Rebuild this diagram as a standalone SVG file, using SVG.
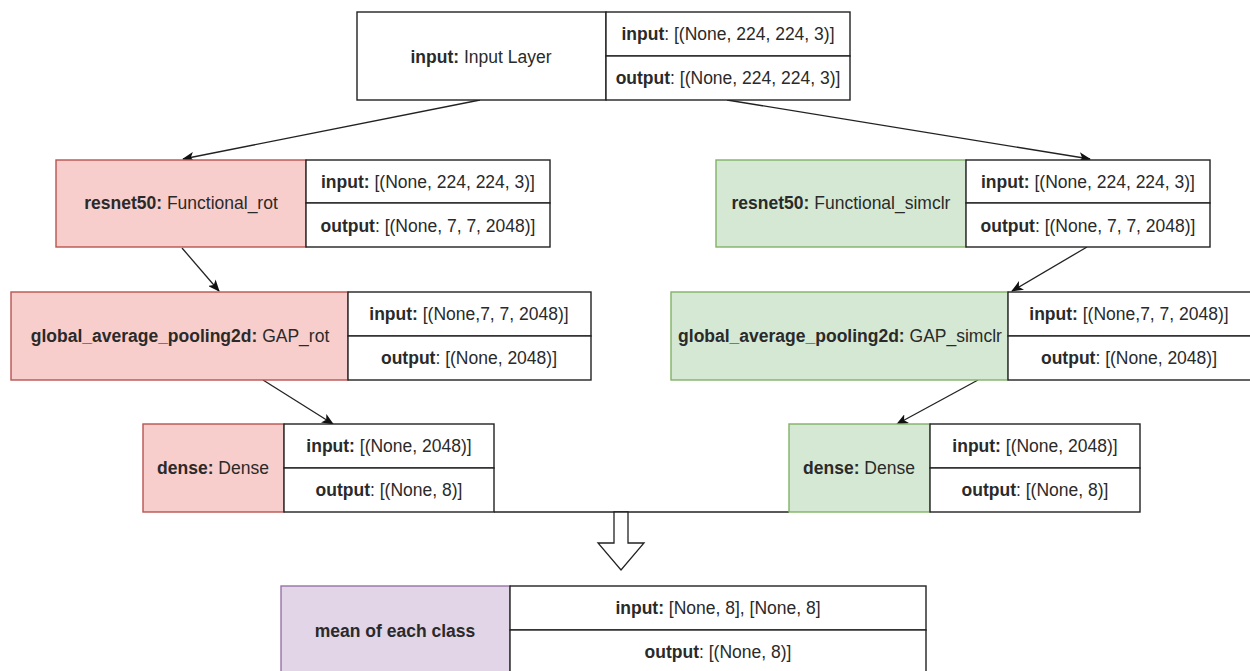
<svg xmlns="http://www.w3.org/2000/svg" width="1250" height="671" viewBox="0 0 1250 671">
  <defs>
    <style>
      text { font-family: "Liberation Sans", Arial, sans-serif; font-size: 17.5px; fill: #2a2a2a; text-anchor: middle; dominant-baseline: central; }
      .b { font-weight: bold; }
      .cell { fill: #ffffff; stroke: #222; stroke-width: 1.4; }
      .plain { fill: #ffffff; stroke: #222; stroke-width: 1.4; }
      .rot { fill: #f8cecc; stroke: #b85450; stroke-width: 1.4; }
      .simclr { fill: #d5e8d4; stroke: #82b366; stroke-width: 1.4; }
      .mean { fill: #e1d5e7; stroke: #9673a6; stroke-width: 1.4; }
      .edge { stroke: #222; stroke-width: 1.3; fill: none; marker-end: url(#tip); }
    </style>
    <marker id="tip" viewBox="0 0 12 10" refX="11" refY="5" markerWidth="12" markerHeight="10" markerUnits="userSpaceOnUse" orient="auto">
      <path d="M0,0 L12,5 L0,10 L3,5 Z" fill="#111"/>
    </marker>
  </defs>

  <rect width="1250" height="671" fill="#ffffff"/>

  <!-- connectors -->
  <g id="connectors">
    <line class="edge" x1="480" y1="100" x2="183" y2="159"/>
    <line class="edge" x1="727" y1="100" x2="1090" y2="159"/>
    <line class="edge" x1="182" y1="248" x2="219" y2="291"/>
    <line class="edge" x1="263" y1="380" x2="333" y2="424"/>
    <line class="edge" x1="1087" y1="247" x2="1012" y2="291"/>
    <line class="edge" x1="978" y1="380" x2="897" y2="424"/>
    <line x1="494" y1="512" x2="789" y2="512" stroke="#222" stroke-width="1.4"/>
    <polygon points="614,512 628,512 628,543 644,543 621,570 598,543 614,543" fill="#ffffff" stroke="#222" stroke-width="1.3"/>
  </g>

  <!-- input layer -->
  <g id="input-layer">
    <rect class="plain" x="357" y="12" width="249" height="88"/>
    <rect class="cell" x="606" y="12" width="244" height="44"/>
    <rect class="cell" x="606" y="56" width="244" height="44"/>
    <text x="481" y="57"><tspan class="b">input:</tspan> Input Layer</text>
    <text x="728" y="34"><tspan class="b">input</tspan>: [(None, 224, 224, 3)]</text>
    <text x="728" y="78"><tspan class="b">output</tspan>: [(None, 224, 224, 3)]</text>
  </g>

  <!-- rotation branch -->
  <g id="resnet-rot">
    <rect class="rot" x="56" y="160" width="250" height="87"/>
    <rect class="cell" x="306" y="160" width="244" height="43"/>
    <rect class="cell" x="306" y="203" width="244" height="44"/>
    <text x="181" y="203"><tspan class="b">resnet50:</tspan> Functional_rot</text>
    <text x="428" y="182"><tspan class="b">input:</tspan> [(None, 224, 224, 3)]</text>
    <text x="428" y="226"><tspan class="b">output</tspan>: [(None, 7, 7, 2048)]</text>
  </g>

  <g id="gap-rot">
    <rect class="rot" x="11" y="292" width="337" height="88"/>
    <rect class="cell" x="348" y="292" width="243" height="44"/>
    <rect class="cell" x="348" y="336" width="243" height="44"/>
    <text x="180" y="336"><tspan class="b">global_average_pooling2d:</tspan> GAP_rot</text>
    <text x="469" y="314"><tspan class="b">input:</tspan> [(None,7, 7, 2048)]</text>
    <text x="469" y="358"><tspan class="b">output</tspan>: [(None, 2048)]</text>
  </g>

  <g id="dense-rot">
    <rect class="rot" x="143" y="424" width="141" height="88"/>
    <rect class="cell" x="284" y="424" width="210" height="44"/>
    <rect class="cell" x="284" y="468" width="210" height="44"/>
    <text x="213" y="468"><tspan class="b">dense:</tspan> Dense</text>
    <text x="389" y="446"><tspan class="b">input:</tspan> [(None, 2048)]</text>
    <text x="389" y="490"><tspan class="b">output</tspan>: [(None, 8)]</text>
  </g>

  <!-- simclr branch -->
  <g id="resnet-simclr">
    <rect class="simclr" x="716" y="160" width="250" height="87"/>
    <rect class="cell" x="966" y="160" width="244" height="43"/>
    <rect class="cell" x="966" y="203" width="244" height="44"/>
    <text x="841" y="203"><tspan class="b">resnet50:</tspan> Functional_simclr</text>
    <text x="1088" y="182"><tspan class="b">input:</tspan> [(None, 224, 224, 3)]</text>
    <text x="1088" y="226"><tspan class="b">output</tspan>: [(None, 7, 7, 2048)]</text>
  </g>

  <g id="gap-simclr">
    <rect class="simclr" x="671" y="292" width="337" height="88"/>
    <rect class="cell" x="1008" y="292" width="246" height="44"/>
    <rect class="cell" x="1008" y="336" width="246" height="44"/>
    <text x="840" y="336"><tspan class="b">global_average_pooling2d:</tspan> GAP_simclr</text>
    <text x="1129" y="314"><tspan class="b">input:</tspan> [(None,7, 7, 2048)]</text>
    <text x="1129" y="358"><tspan class="b">output</tspan>: [(None, 2048)]</text>
  </g>

  <g id="dense-simclr">
    <rect class="simclr" x="789" y="424" width="141" height="88"/>
    <rect class="cell" x="930" y="424" width="210" height="44"/>
    <rect class="cell" x="930" y="468" width="210" height="44"/>
    <text x="859" y="468"><tspan class="b">dense:</tspan> Dense</text>
    <text x="1035" y="446"><tspan class="b">input:</tspan> [(None, 2048)]</text>
    <text x="1035" y="490"><tspan class="b">output</tspan>: [(None, 8)]</text>
  </g>

  <!-- merge -->
  <g id="mean-class">
    <rect class="mean" x="281" y="586" width="229" height="92"/>
    <rect class="cell" x="510" y="586" width="416" height="44"/>
    <rect class="cell" x="510" y="630" width="416" height="48"/>
    <text class="b" x="395" y="631">mean of each class</text>
    <text x="718" y="608"><tspan class="b">input:</tspan> [None, 8], [None, 8]</text>
    <text x="718" y="652"><tspan class="b">output</tspan>: [(None, 8)]</text>
  </g>
</svg>
